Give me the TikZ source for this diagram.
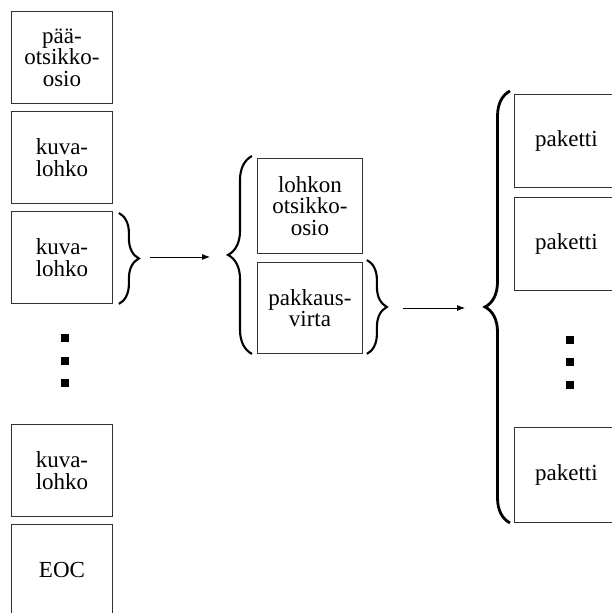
\documentclass[tikz,border=0pt]{standalone}
\usepackage{fontspec}
\setmainfont{Liberation Serif}
\usetikzlibrary{decorations.pathreplacing,arrows.meta}
\begin{document}
\begin{tikzpicture}[x=1pt,y=-1pt,
  blk/.style={draw=black!80, line width=0.9pt, anchor=north west, inner sep=0pt,
    align=center, font=\fontsize{23}{21.5}\selectfont},
  lblk/.style={blk, minimum width=101pt, minimum height=92pt},
  mblk/.style={blk, minimum width=105pt},
  rblk/.style={blk, minimum width=104pt, minimum height=93pt},
  dotsq/.style={fill=black, minimum size=8pt, inner sep=0pt},
  curly/.style={decorate, decoration={brace, amplitude=#1, aspect=0.5}, line width=2.1pt},
  link/.style={line width=0.8pt, -{Latex[length=8pt,width=6pt]}}]
\useasboundingbox (0,0) rectangle (612,613);

% left column: main header and image blocks
\node[lblk] (hdr) at (11,11) {pää-\\otsikko-\\osio};
\node[lblk] (img1) at (11,111) {kuva-\\lohko};
\node[lblk] (img2) at (11,211) {kuva-\\lohko};
\node[dotsq] (ld1) at (65,338) {};
\node[dotsq] (ld2) at (65,361) {};
\node[dotsq] (ld3) at (65,383) {};
\node[lblk] (imgn) at (11,424) {kuva-\\lohko};
\node[lblk] (eoc) at (11,524) {EOC};

% middle column: block header and packet stream
\node[mblk, minimum height=95pt] (bhdr) at (257,158) {lohkon\\otsikko-\\osio};
\node[mblk, minimum height=91pt] (pstr) at (257,262) {pakkaus-\\virta};

% right column: packets
\node[rblk] (pk1) at (514,94) {paketti};
\node[rblk] (pk2) at (514,197) {paketti};
\node[dotsq] (rd1) at (570,340) {};
\node[dotsq] (rd2) at (570,362) {};
\node[dotsq] (rd3) at (570,385) {};
\node[rblk, minimum height=95pt] (pkn) at (514,427) {paketti};

% braces
\draw[curly=20pt] ([xshift=6pt,yshift=-2pt]img2.north east) -- ([xshift=6pt,yshift=0pt]img2.south east);
\draw[curly=24pt] ([xshift=-5pt]pstr.south west) -- ([xshift=-5pt,yshift=2pt]bhdr.north west);
\draw[curly=20pt] ([xshift=4pt,yshift=2pt]pstr.north east) -- ([xshift=4pt]pstr.south east);
\draw[curly=25pt, line width=2.8pt] ([xshift=-4pt]pkn.south west) -- ([xshift=-4pt,yshift=3pt]pk1.north west);

% arrows between the levels
\coordinate (a1s) at (150,257);
\coordinate (a1e) at (210,257);
\coordinate (a2s) at (403,308);
\coordinate (a2e) at (465,308);
\draw[link] (a1s) -- (a1e);
\draw[link] (a2s) -- (a2e);
\end{tikzpicture}
\end{document}
